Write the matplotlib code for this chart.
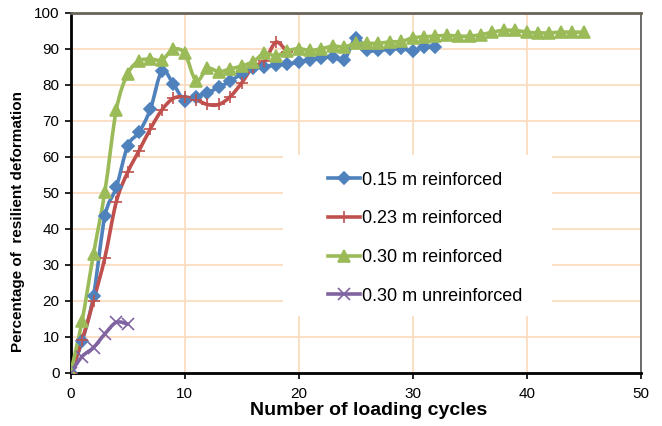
import numpy as np
import matplotlib.pyplot as plt
from matplotlib.path import Path
from matplotlib.patches import PathPatch, Rectangle
from matplotlib.lines import Line2D

plt.rcParams['font.family'] = ['Liberation Sans', 'DejaVu Sans']

# loading cycle -> percentage of resilient deformation
x_015 = list(range(0, 33))
y_015 = [0, 8.8, 21.4, 43.5, 51.5, 63, 66.8, 73.3, 83.8, 80.2, 75.5, 76.7, 77.8,
         79.3, 81, 83, 84.5, 85, 85.5, 85.7, 86.3, 86.9, 87.3, 87.8, 86.9, 92.9,
         89.6, 89.6, 89.8, 90.1, 89.4, 90.6, 90.6]

x_023 = list(range(0, 20))
y_023 = [0, 9, 20, 32, 47.5, 55.7, 61.7, 67.8, 73, 76.2, 76.6, 75.8, 74.5, 74.5,
         76.7, 80.5, 85, 86.5, 91.8, 89]

x_030 = list(range(0, 46))
y_030 = [0, 14.4, 33, 50.3, 73, 83, 86.6, 87.1, 86.9, 89.8, 88.7, 81.1, 84.5,
         83.6, 84.4, 85.2, 86.4, 88.7, 88, 89.4, 90, 89.5, 90, 90.7, 90.5, 91.5,
         91.5, 91.5, 91.9, 92, 93, 93.3, 93.5, 93.7, 93.5, 93.5, 93.9, 94.6,
         95.1, 95.1, 94.6, 94.4, 94.4, 94.6, 94.6, 94.6]

x_030u = [0, 1, 2, 3, 4, 5]
y_030u = [0, 4.5, 7, 10.8, 14, 13.5]

labels = ['0.15 m reinforced', '0.23 m reinforced',
          '0.30 m reinforced', '0.30 m unreinforced']
colors = ['#4F81BD', '#C0504D', '#9BBB59', '#8064A2']
markers = ['D', '+', '^', 'x']
msizes = [6.5, 9, 8.5, 8]


def smooth_path(x, y):
    # cubic bezier segments through the points (Excel-style smoothed line)
    p = np.column_stack([x, y]).astype(float)
    n = len(p)
    verts = [p[0]]
    codes = [Path.MOVETO]
    for i in range(n - 1):
        p0 = p[i - 1] if i > 0 else p[i]
        p3 = p[i + 2] if i + 2 < n else p[i + 1]
        c1 = p[i] + (p[i + 1] - p0) / 6.0
        c2 = p[i + 1] - (p3 - p[i]) / 6.0
        verts += [c1, c2, p[i + 1]]
        codes += [Path.CURVE4] * 3
    return Path(verts, codes)


fig = plt.figure(figsize=(6.62, 4.26), dpi=100)
ax = fig.add_axes([0.1068, 0.1251, 0.861, 0.8451])

series = [(x_015, y_015), (x_023, y_023), (x_030, y_030), (x_030u, y_030u)]
for (x, y), c, m, ms in zip(series, colors, markers, msizes):
    ax.add_patch(PathPatch(smooth_path(x, y), fill=False, edgecolor=c,
                           linewidth=2.6, zorder=3, capstyle='round'))
    ax.plot(x, y, linestyle='none', marker=m, color=c, markersize=ms,
            markeredgewidth=1.2, zorder=4)

ax.set_xlim(0, 50)
ax.set_ylim(0, 100)
ax.set_xticks(np.arange(0, 51, 10))
ax.set_yticks(np.arange(0, 101, 10))
ax.grid(True, color='#FBDCC2', linewidth=1.3, zorder=0)
ax.set_axisbelow(True)

for s in ['left', 'bottom']:
    ax.spines[s].set_linewidth(2)
    ax.spines[s].set_color('black')
ax.spines['top'].set_color('#6B6359')
ax.spines['top'].set_linewidth(2)
ax.spines['right'].set_color('#555555')
ax.spines['right'].set_linewidth(1.2)
ax.tick_params(axis='both', direction='out', length=4, width=1.2,
               labelsize=11, pad=4)
ax.tick_params(axis='x', pad=6)

ax.set_xlabel('Number of loading cycles', fontsize=14, fontweight='bold')
ax.set_ylabel('Percentage of  resilient deformation', fontsize=11,
              fontweight='bold')
ax.xaxis.set_label_coords(0.523, -0.08)
ax.yaxis.set_label_coords(-0.08, 0.421)

# white box behind the legend hides the grid
ax.add_patch(Rectangle((18.6, 15.8), 23.6, 44.7, facecolor='white',
                       edgecolor='none', zorder=1))

handles = [Line2D([0], [0], color=c, marker=m, markersize=ms, linewidth=2.6,
                  markeredgewidth=1.2)
           for c, m, ms in zip(colors, markers, msizes)]
ax.legend(handles, labels, loc='center left', bbox_to_anchor=(0.451, 0.374),
          frameon=False, fontsize=13, handlelength=1.8, handletextpad=0.12,
          labelspacing=1.2, borderaxespad=0, borderpad=0)

fig.savefig('out.png', dpi=100)
